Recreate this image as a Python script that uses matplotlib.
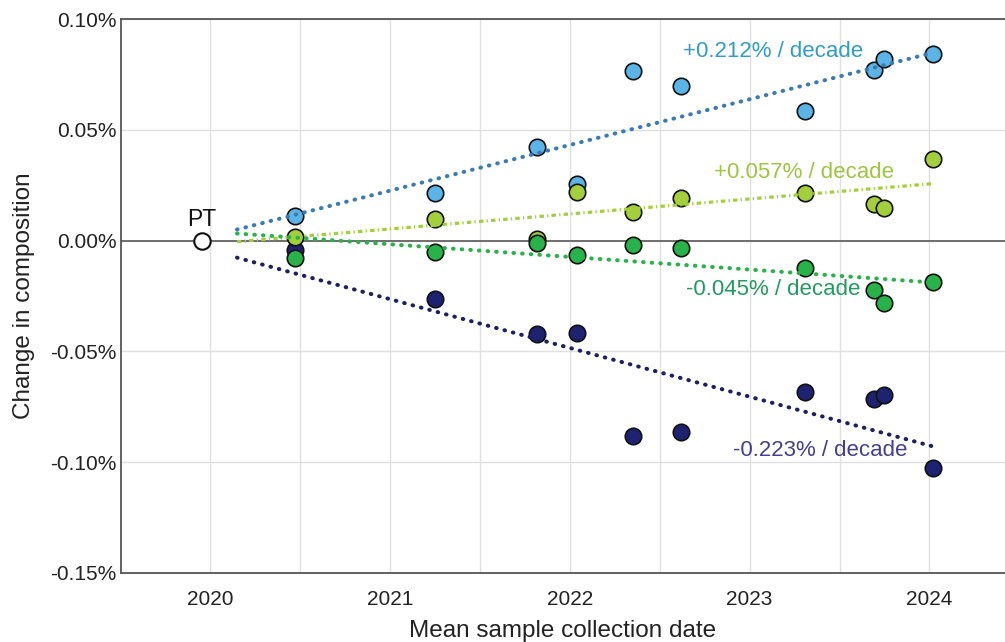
import numpy as np
import matplotlib
matplotlib.use("Agg")
import matplotlib.pyplot as plt
from matplotlib.ticker import FuncFormatter

plt.rcParams["font.family"] = ["Liberation Sans", "DejaVu Sans"]

# ---- data (change in composition, %) ----
dates = [2020.47, 2021.25, 2021.82, 2022.04, 2022.35, 2022.62, 2023.31, 2023.69, 2023.75, 2024.02]
blue = [0.0113, 0.0217, 0.0424, 0.0257, 0.0767, 0.0699, 0.0586, 0.0771, 0.0821, 0.0843]
lightgreen = [0.0014, 0.0099, 0.0009, 0.0221, 0.0131, 0.0194, 0.0217, 0.0167, 0.0149, 0.0370]
green = [-0.0077, -0.0050, -0.0009, -0.0063, -0.0018, -0.0032, -0.0122, -0.0221, -0.0280, -0.0189]
navy = [-0.0041, -0.0262, -0.0420, -0.0419, -0.0880, -0.0862, -0.0681, -0.0713, -0.0699, -0.1024]

pt_date = 2019.955
pt_value = 0.0

# trend lines: value at start / end of fit range
trend_dates = [2020.15, 2024.02]
trend_blue = [0.0050, 0.0848]
trend_lightgreen = [-0.0005, 0.0257]
trend_green = [0.0032, -0.0189]
trend_navy = [-0.0077, -0.0929]

trend_labels = ["+0.212% / decade", "+0.057% / decade", "-0.045% / decade", "-0.223% / decade"]

year_ticks = [2020, 2021, 2022, 2023, 2024]
pct_ticks = [-0.15, -0.10, -0.05, 0.00, 0.05, 0.10]

# ---- figure ----
fig = plt.figure(figsize=(10.05, 6.42), dpi=100)
ax = fig.add_axes([0.1204, 0.1075, 0.8796, 0.8629])

ax.set_xlim(2019.505, 2024.42)
ax.set_ylim(-0.15, 0.10)

# grid (half year vertical)
for xg in np.arange(2020, 2024.01, 0.5):
    ax.axvline(xg, color="#e0e0e0", lw=1.0, zorder=0)
for yg in pct_ticks:
    ax.axhline(yg, color="#e0e0e0", lw=1.0, zorder=0)
ax.axhline(0, color="#6e6e6e", lw=1.4, zorder=1)

series = [
    (navy, "#1d2370"),
    (blue, "#5bb4e5"),
    (lightgreen, "#a3cf3c"),
    (green, "#27b24a"),
]
for vals, col in series:
    ax.scatter(dates, vals, s=140, color=col, edgecolor="#111111", linewidth=1.2, zorder=3)

dot = (0, (0.15, 2.0))
ax.plot(trend_dates, trend_blue, color="#3b7bb3", lw=2.9, ls=dot, dash_capstyle="round", zorder=4)
ax.plot(trend_dates, trend_lightgreen, color="#a3cf3c", lw=2.3, ls=(0, (1.4, 1.0, 0.4, 1.0)), zorder=4)
ax.plot(trend_dates, trend_green, color="#27b24a", lw=2.9, ls=dot, dash_capstyle="round", zorder=4)
ax.plot(trend_dates, trend_navy, color="#1d2060", lw=2.9, ls=dot, dash_capstyle="round", zorder=4)

# PT reference point
ax.scatter([pt_date], [pt_value], s=140, color="white", edgecolor="#111111", linewidth=1.5, zorder=3)
ax.text(pt_date, pt_value + 0.0045, "PT", ha="center", va="bottom", fontsize=16.5, color="#111111")

label_pos = [(2023.13, 0.0852), (2023.30, 0.0307), (2023.13, -0.0221), (2023.39, -0.0947)]
label_cols = ["#2f9cc9", "#9cc63f", "#1f9c5e", "#463e8e"]
for txt, (lx, ly), c in zip(trend_labels, label_pos, label_cols):
    ax.text(lx, ly, txt, ha="center", va="center", fontsize=16, color=c, zorder=5)

ax.set_xticks(year_ticks)
ax.set_xticklabels([str(y) for y in year_ticks])
ax.set_yticks(pct_ticks)
ax.yaxis.set_major_formatter(FuncFormatter(lambda v, p: f"{v:.2f}%"))
ax.tick_params(axis="both", length=0, labelsize=15, colors="#222222")
ax.tick_params(axis="x", pad=12)
ax.tick_params(axis="y", pad=3)

for side in ["left", "bottom", "top"]:
    ax.spines[side].set_color("#555555")
    ax.spines[side].set_linewidth(1.3)
ax.spines["right"].set_visible(False)

ax.set_xlabel("Mean sample collection date", fontsize=17.5, color="#222222", labelpad=8)
ax.set_ylabel("Change in composition", fontsize=17.5, color="#222222", labelpad=11)

fig.savefig("out.png", dpi=100)
